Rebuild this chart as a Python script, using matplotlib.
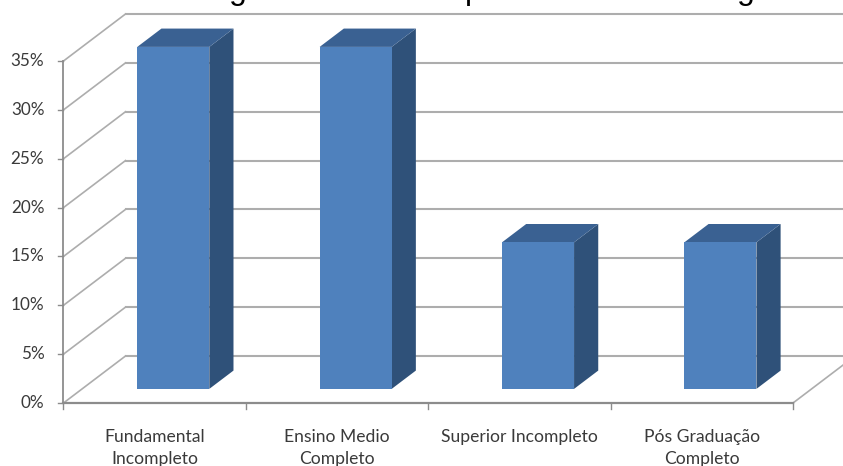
import matplotlib
matplotlib.use('Agg')
import matplotlib.pyplot as plt
from matplotlib.patches import Polygon

categories = ['Fundamental\nIncompleto', 'Ensino Medio\nCompleto', 'Superior Incompleto', 'Pós Graduação\nCompleto']
values = [35, 35, 15, 15]
y_ticks = [0, 5, 10, 15, 20, 25, 30, 35]
title_letters = ['g', 'p', 'g']

W, H = 843, 466
fig = plt.figure(figsize=(W / 100, H / 100), dpi=100)
plt.rcParams['font.family'] = ['Lato', 'DejaVu Sans']

# front plane of the fake 3d box, in pixels
left, right, bottom, top = 63.5, 793, 403, 61
ax = fig.add_axes([left / W, 1 - bottom / H, (right - left) / W, (bottom - top) / H])
ax.set_xlim(0, len(categories))
ax.set_ylim(0, 35)
ax.axis('off')

# wall depth in data units
depth_x = 62 / (right - left) * len(categories)
depth_y = 47 / (bottom - top) * 35
grid_color = '#adadad'
x_end = W / (right - left) * len(categories)

# back wall gridlines and the slanted lines joining them to the axis
for t in y_ticks:
    ax.plot([depth_x, x_end], [t + depth_y, t + depth_y], color=grid_color, lw=1.5, clip_on=False, zorder=1)
    ax.plot([0, depth_x], [t, t + depth_y], color=grid_color, lw=1.2, clip_on=False, zorder=1)
    ax.plot([-0.028, 0], [t, t], color='#8c8c8c', lw=1.0, clip_on=False, zorder=2)

# floor edge on the right
ax.plot([4, 4 + depth_x], [0, depth_y], color=grid_color, lw=1.2, clip_on=False, zorder=1)

# axis lines and ticks
ax.plot([0, 0], [0, 35], color='#8c8c8c', lw=1.3, clip_on=False, zorder=2)
ax.plot([0, 4], [0, 0], color='#8c8c8c', lw=1.6, clip_on=False, zorder=2)
for i in range(len(categories) + 1):
    ax.plot([i, i], [0, -0.65], color='#8c8c8c', lw=1.0, clip_on=False, zorder=2)

# bars: front face, dark side and top
bar_w = 0.395
off = 0.30
bar_d = 0.39
for i, v in enumerate(values):
    x0 = i + 0.5 + off * depth_x - bar_w / 2
    x1 = x0 + bar_w
    y0 = off * depth_y
    y1 = y0 + v
    dx = bar_d * depth_x
    dy = bar_d * depth_y
    ax.add_patch(Polygon([(x1, y0), (x1 + dx, y0 + dy), (x1 + dx, y1 + dy), (x1, y1)],
                         fc='#2f5179', ec='none', zorder=3, clip_on=False))
    ax.add_patch(Polygon([(x0, y1), (x1, y1), (x1 + dx, y1 + dy), (x0 + dx, y1 + dy)],
                         fc='#3a6192', ec='none', zorder=3, clip_on=False))
    ax.add_patch(Polygon([(x0, y0), (x1, y0), (x1, y1), (x0, y1)],
                         fc='#4f81bd', ec='none', zorder=4, clip_on=False))

for t in y_ticks:
    ax.text(-0.105, t, f'{t}%', ha='right', va='center', fontsize=12.3, color='#3a3a3a', clip_on=False)

for i, c in enumerate(categories):
    ax.text(i + 0.5, -2.7, c, ha='center', va='top', fontsize=12.6, color='#3a3a3a',
            linespacing=1.47, clip_on=False)

# title sits mostly above the top edge, only the descenders come through
for letter, px in zip(title_letters, [237.5, 474, 746]):
    fig.text(px / W, 1 + 1.5 / H, letter, ha='center', va='baseline', fontsize=23,
             family='Liberation Sans', color='black')

fig.savefig('out.png', dpi=100)
